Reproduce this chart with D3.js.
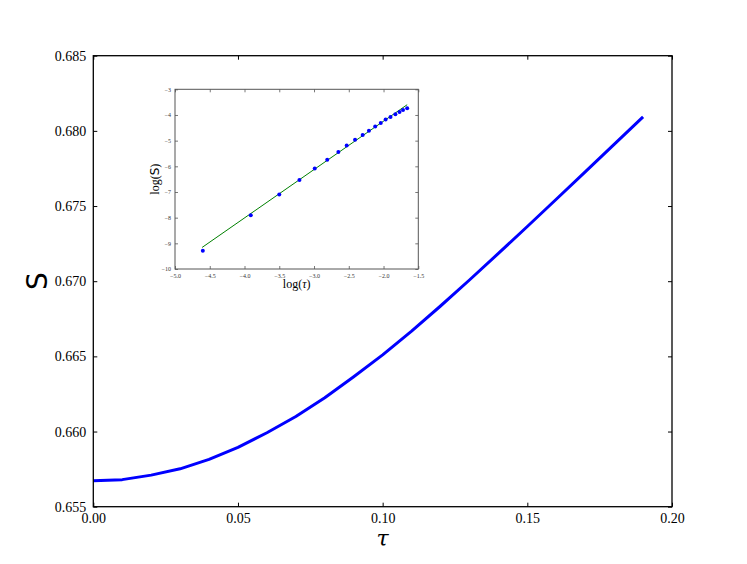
<!DOCTYPE html>
<html>
<head>
<meta charset="utf-8">
<script src="https://cdn.jsdelivr.net/npm/d3@7"></script>
<style>
  body { margin: 0; background: #fff; }
  svg { display: block; }
</style>
</head>
<body>
<svg id="chart" width="747" height="564"></svg>
<script>
// main curve: S vs tau
const tau = [0.00, 0.01, 0.02, 0.03, 0.04, 0.05, 0.06, 0.07, 0.08, 0.09,
             0.10, 0.11, 0.12, 0.13, 0.14, 0.15, 0.16, 0.17, 0.18, 0.19];
const sVals = [0.65672, 0.65680, 0.65710, 0.65752, 0.65815, 0.65895, 0.65992, 0.66100, 0.66225, 0.66365,
               0.66510, 0.66668, 0.66835, 0.67008, 0.67185, 0.67364, 0.67545, 0.67727, 0.67910, 0.68093];

// inset: log(S) vs log(tau) points + fitted line
const logTau = [-4.60, -3.91, -3.50, -3.21, -2.99, -2.81, -2.65, -2.53, -2.41, -2.30,
                -2.21, -2.12, -2.04, -1.97, -1.90, -1.83, -1.77, -1.72, -1.66];
const logS = [-9.29, -7.91, -7.10, -6.53, -6.09, -5.74, -5.44, -5.19, -4.97, -4.78,
              -4.61, -4.45, -4.31, -4.18, -4.08, -3.97, -3.88, -3.81, -3.74];
const fitX = [-4.61, -1.66];
const fitY = [-9.16, -3.60];

const xTicks = [0, 0.05, 0.10, 0.15, 0.20];
const yTicks = [0.655, 0.660, 0.665, 0.670, 0.675, 0.680, 0.685];
const insetXTicks = [-5.0, -4.5, -4.0, -3.5, -3.0, -2.5, -2.0, -1.5];
const insetYTicks = [-10, -9, -8, -7, -6, -5, -4, -3];

const SERIF = "'Liberation Serif', 'DejaVu Serif', serif";
const svg = d3.select("#chart");
const minus = s => s.replace("-", "\u2212");

// ---- main axes ----
const M = { left: 93.3, right: 672, top: 55.7, bottom: 506.7 };
const x = d3.scaleLinear().domain([0, 0.2]).range([M.left, M.right]);
const y = d3.scaleLinear().domain([0.655, 0.685]).range([M.bottom, M.top]);

const tickStyle = (g, size) => {
  g.select(".domain").remove();
  g.selectAll(".tick line").attr("stroke", "#000").attr("stroke-width", 1);
  g.selectAll(".tick text").attr("font-family", SERIF).attr("font-size", size).attr("fill", "#000");
};

svg.append("g")
  .attr("transform", `translate(0,${M.bottom})`)
  .call(d3.axisBottom(x).tickValues(xTicks).tickFormat(d3.format(".2f")).tickSizeInner(-4).tickSizeOuter(0).tickPadding(6))
  .call(g => tickStyle(g, 14));
svg.append("g")
  .attr("transform", `translate(0,${M.top})`)
  .call(d3.axisTop(x).tickValues(xTicks).tickFormat("").tickSizeInner(-4).tickSizeOuter(0))
  .call(g => tickStyle(g, 14));
svg.append("g")
  .attr("transform", `translate(${M.left},0)`)
  .call(d3.axisLeft(y).tickValues(yTicks).tickFormat(d3.format(".3f")).tickSizeInner(-4).tickSizeOuter(0).tickPadding(7))
  .call(g => tickStyle(g, 14));
svg.append("g")
  .attr("transform", `translate(${M.right},0)`)
  .call(d3.axisRight(y).tickValues(yTicks).tickFormat("").tickSizeInner(-4).tickSizeOuter(0))
  .call(g => tickStyle(g, 14));

svg.append("path")
  .datum(tau.map((t, i) => [t, sVals[i]]))
  .attr("fill", "none")
  .attr("stroke", "#0000ff")
  .attr("stroke-width", 3)
  .attr("stroke-linejoin", "round")
  .attr("d", d3.line().x(d => x(d[0])).y(d => y(d[1])));

svg.append("rect")
  .attr("x", M.left).attr("y", M.top)
  .attr("width", M.right - M.left).attr("height", M.bottom - M.top)
  .attr("fill", "none").attr("stroke", "#000").attr("stroke-width", 1.3);

svg.append("text")
  .attr("x", (M.left + M.right) / 2).attr("y", 546)
  .attr("text-anchor", "middle")
  .attr("font-family", "'DejaVu Serif', serif").attr("font-style", "italic")
  .attr("font-size", 22)
  .text("\u03c4");
svg.append("text")
  .attr("transform", `translate(47,${(M.top + M.bottom) / 2}) rotate(-90)`)
  .attr("text-anchor", "middle")
  .attr("font-family", "'DejaVu Sans', sans-serif")
  .attr("font-size", 28)
  .text("S");

// ---- inset axes ----
const I = { left: 175, right: 418.3, top: 89.3, bottom: 269 };
const ix = d3.scaleLinear().domain([-5, -1.5]).range([I.left, I.right]);
const iy = d3.scaleLinear().domain([-10, -3]).range([I.bottom, I.top]);
const inset = svg.append("g");

inset.append("rect")
  .attr("x", I.left).attr("y", I.top)
  .attr("width", I.right - I.left).attr("height", I.bottom - I.top)
  .attr("fill", "#fff");

const insetTicks = g => {
  g.select(".domain").remove();
  g.selectAll(".tick line").attr("stroke", "#555").attr("stroke-width", 0.8);
  g.selectAll(".tick text").attr("font-family", SERIF).attr("font-size", 6).attr("fill", "#333");
};
inset.append("g")
  .attr("transform", `translate(0,${I.bottom})`)
  .call(d3.axisBottom(ix).tickValues(insetXTicks).tickFormat(d => minus(d3.format(".1f")(d))).tickSizeInner(-3).tickSizeOuter(0).tickPadding(5))
  .call(insetTicks);
inset.append("g")
  .attr("transform", `translate(0,${I.top})`)
  .call(d3.axisTop(ix).tickValues(insetXTicks).tickFormat("").tickSizeInner(-3).tickSizeOuter(0))
  .call(insetTicks);
inset.append("g")
  .attr("transform", `translate(${I.left},0)`)
  .call(d3.axisLeft(iy).tickValues(insetYTicks).tickFormat(d => minus(String(d))).tickSizeInner(-3).tickSizeOuter(0).tickPadding(4))
  .call(insetTicks);
inset.append("g")
  .attr("transform", `translate(${I.right},0)`)
  .call(d3.axisRight(iy).tickValues(insetYTicks).tickFormat("").tickSizeInner(-3).tickSizeOuter(0))
  .call(insetTicks);

inset.append("path")
  .datum(fitX.map((v, i) => [v, fitY[i]]))
  .attr("fill", "none")
  .attr("stroke", "#008000")
  .attr("stroke-width", 1)
  .attr("d", d3.line().x(d => ix(d[0])).y(d => iy(d[1])));

inset.selectAll("circle")
  .data(logTau.map((v, i) => [v, logS[i]]))
  .join("circle")
  .attr("cx", d => ix(d[0]))
  .attr("cy", d => iy(d[1]))
  .attr("r", 2)
  .attr("fill", "#0000ff");

inset.append("rect")
  .attr("x", I.left).attr("y", I.top)
  .attr("width", I.right - I.left).attr("height", I.bottom - I.top)
  .attr("fill", "none").attr("stroke", "#555").attr("stroke-width", 1);

inset.append("text")
  .attr("x", (I.left + I.right) / 2).attr("y", 288)
  .attr("text-anchor", "middle")
  .attr("font-family", SERIF).attr("font-size", 12)
  .html("log(<tspan font-style='italic'>\u03c4</tspan>)");
inset.append("text")
  .attr("transform", `translate(159,${(I.top + I.bottom) / 2}) rotate(-90)`)
  .attr("text-anchor", "middle")
  .attr("font-family", SERIF).attr("font-size", 12)
  .html("log(<tspan font-family=\"'DejaVu Sans', sans-serif\">S</tspan>)");
</script>
</body>
</html>
